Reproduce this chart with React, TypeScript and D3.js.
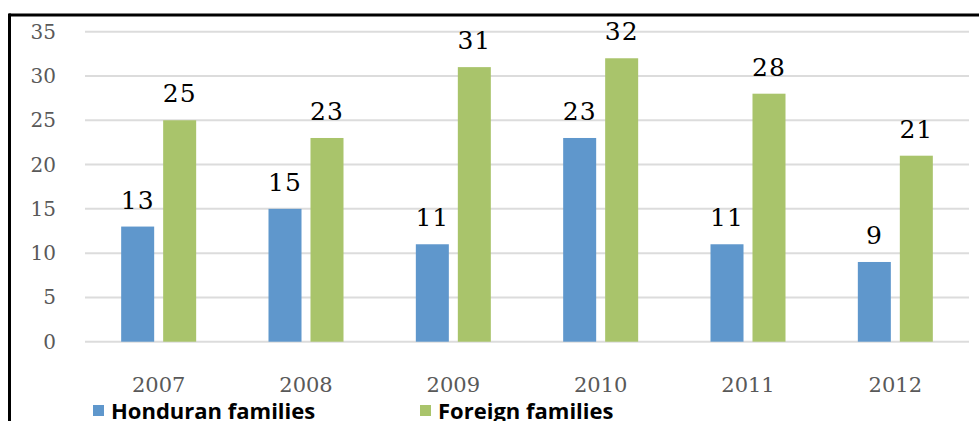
import React from "react";
import { scaleLinear, scaleBand, range } from "d3";

const years = ["2007", "2008", "2009", "2010", "2011", "2012"];
const honduran = [13, 15, 11, 23, 11, 9];
const foreign = [25, 23, 31, 32, 28, 21];
const seriesNames = ["Honduran families", "Foreign families"];
const seriesColors = ["#5F97CC", "#A9C46B"];
const yTicks = [0, 5, 10, 15, 20, 25, 30, 35];

export default function App() {
  const w = 979;
  const h = 421;
  const left = 85;
  const right = 969;
  const top = 31.7;
  const bottom = 341.7;

  const x = scaleBand().domain(years).range([left, right]);
  const y = scaleLinear().domain([0, 35]).range([bottom, top]);
  const inner = scaleBand()
    .domain(seriesNames)
    .range([-37.5, 37.5])
    .paddingInner(0.214);

  const values = [honduran, foreign];

  return (
    <svg
      width={w}
      height={h}
      style={{ position: "absolute", left: 0, top: 0, background: "#fff" }}
    >
      {/* gridlines */}
      {yTicks.map((t) => (
        <line
          key={t}
          x1={left}
          x2={right}
          y1={y(t)}
          y2={y(t)}
          stroke="#DCDCDC"
          strokeWidth={2}
        />
      ))}
      {yTicks.map((t) => (
        <text
          key={"l" + t}
          x={56}
          y={y(t) + 7}
          textAnchor="end"
          fontFamily="DejaVu Serif"
          fontSize={20}
          fill="#595959"
        >
          {t}
        </text>
      ))}

      {/* bars */}
      {values.map((vals, si) =>
        years.map((yr, i) => {
          const cx = x(yr)! + x.bandwidth() / 2 + inner(seriesNames[si])!;
          return (
            <g key={si + yr}>
              <rect
                x={cx}
                y={y(vals[i])}
                width={inner.bandwidth()}
                height={bottom - y(vals[i])}
                fill={seriesColors[si]}
              />
              <text
                x={cx + inner.bandwidth() / 2}
                y={y(vals[i]) - 18}
                textAnchor="middle"
                fontFamily="DejaVu Serif"
                fontSize={25}
                letterSpacing={1}
                fill="#000"
              >
                {vals[i]}
              </text>
            </g>
          );
        })
      )}

      {/* x labels */}
      {years.map((yr) => (
        <text
          key={"x" + yr}
          x={x(yr)! + x.bandwidth() / 2}
          y={392}
          textAnchor="middle"
          fontFamily="DejaVu Serif"
          fontSize={21}
          fill="#595959"
        >
          {yr}
        </text>
      ))}

      {/* legend */}
      {range(2).map((i) => {
        const lx = [93, 420][i];
        return (
          <g key={"lg" + i}>
            <rect x={lx} y={405} width={11} height={11} fill={seriesColors[i]} />
            <text
              x={lx + 18}
              y={419}
              fontFamily="Open Sans"
              fontWeight="bold"
              fontSize={22}
              fill="#000"
            >
              {seriesNames[i]}
            </text>
          </g>
        );
      })}

      {/* frame */}
      <line x1={9} x2={979} y1={15} y2={15} stroke="#000" strokeWidth={3} />
      <line x1={9.5} x2={9.5} y1={13.5} y2={421} stroke="#000" strokeWidth={3} />
    </svg>
  );
}
